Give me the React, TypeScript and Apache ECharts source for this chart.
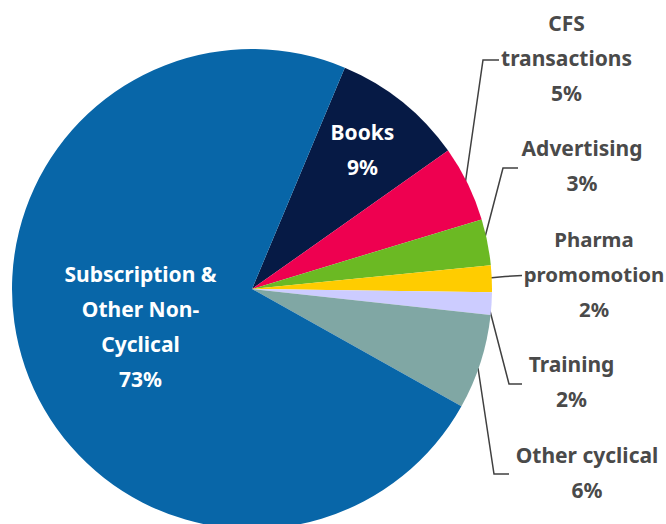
import React, { useEffect, useRef } from "react";
import * as echarts from "echarts";

const categories = [
  "Books",
  "CFS\ntransactions",
  "Advertising",
  "Pharma\npromomotion",
  "Training",
  "Other cyclical",
  "Subscription &\nOther Non-\nCyclical",
];
const shares = [8.9, 5.1, 3.1, 1.8, 1.5, 6.4, 73.2];
const colors = ["#061A45", "#EE0050", "#6BB923", "#FFCC00", "#CCCCFF", "#80A7A4", "#0866A8"];
const insideLabel = [true, false, false, false, false, false, true];

// label anchor positions (layout only)
const labelPos: [number, number][] = [
  [362.5, 149.5],
  [566.5, 57.5],
  [582, 165.5],
  [594, 274],
  [571.5, 381],
  [587, 472],
  [140.5, 326],
];
const labelSize = [21, 21, 21, 20.4, 21, 21, 21];
const leaderLines: ([number, number][] | null)[] = [
  null,
  [[465, 185], [483, 60], [499, 60]],
  [[484, 241], [503, 168], [518, 168]],
  [[489, 278], [505, 276.5], [522, 275.5]],
  [[489, 307], [509, 384], [522, 384]],
  [[478, 368], [494, 474], [509, 474]],
  null,
];

export default function App() {
  const ref = useRef<HTMLDivElement>(null);
  useEffect(() => {
    if (!ref.current) return;
    const chart = echarts.init(ref.current, undefined, { renderer: "svg" });
    const data = categories.map((name, i) => ({
      name,
      value: shares[i],
      itemStyle: { color: colors[i] },
      label: insideLabel[i]
        ? { position: "inside", color: "#ffffff", fontSize: labelSize[i] }
        : { position: "outside", color: "#4A4A4A", fontSize: labelSize[i] },
      labelLine: { show: !insideLabel[i] },
    }));
    chart.setOption({
      animation: false,
      backgroundColor: "#ffffff",
      series: [
        {
          type: "pie",
          center: [252, 289],
          radius: 240,
          startAngle: 67.25,
          clockwise: true,
          avoidLabelOverlap: false,
          itemStyle: { borderWidth: 0 },
          label: {
            show: true,
            fontFamily: "Noto Sans",
            fontWeight: "bold",
            fontSize: 21,
            lineHeight: 35,
            align: "center",
            formatter: (p: any) => `${p.name}\n${Math.round(p.value)}%`,
          },
          labelLine: {
            show: true,
            lineStyle: { color: "#404040", width: 1.5 },
          },
          labelLayout: (params: any) => {
            const i = params.dataIndex;
            const out: any = {
              x: labelPos[i][0],
              y: labelPos[i][1],
              align: "center",
              verticalAlign: "middle",
            };
            if (leaderLines[i]) out.labelLinePoints = leaderLines[i];
            return out;
          },
          data,
        },
      ],
    });
    return () => chart.dispose();
  }, []);
  return (
    <div
      ref={ref}
      style={{ position: "fixed", left: 0, top: 0, width: 666, height: 524 }}
    />
  );
}
